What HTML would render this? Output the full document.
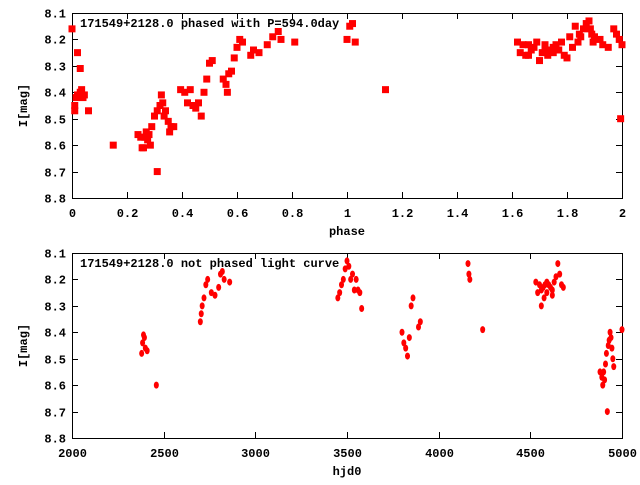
<!DOCTYPE html>
<html><head><meta charset="utf-8"><style>
body{margin:0;background:#fff}
svg text{font-family:"Liberation Mono",monospace;font-weight:bold;font-size:12px;fill:#000}
</style></head><body>
<svg id="s" width="640" height="480" xmlns="http://www.w3.org/2000/svg">
<rect x="0" y="0" width="640" height="480" fill="#fff"/>
</svg>
<script>
(function(){
var s=document.getElementById('s'),NS='http://www.w3.org/2000/svg';
function el(t,a,txt){var e=document.createElementNS(NS,t);for(var k in a)e.setAttribute(k,a[k]);if(txt!=null)e.textContent=txt;s.appendChild(e);return e;}
var L=72,R=622;
function axes(T,B,xmin,xmax,xstep,xlab,title,dec){
 el('rect',{x:L+.5,y:T+.5,width:R-L,height:B-T,fill:'none',stroke:'#000','stroke-width':1});
 for(var v=8.1;v<=8.801;v+=0.1){var y=Math.round(T+(v-8.1)/0.7*(B-T))+.5;
  el('line',{x1:L,y1:y,x2:L+6,y2:y,stroke:'#000'});el('line',{x1:R-6,y1:y,x2:R,y2:y,stroke:'#000'});
  el('text',{x:66,y:y+4,'text-anchor':'end'},v.toFixed(1));}
 for(var v=xmin;v<=xmax+1e-9;v+=xstep){var x=Math.round(L+(v-xmin)/(xmax-xmin)*(R-L))+.5;
  el('line',{x1:x,y1:T,x2:x,y2:T+6,stroke:'#000'});el('line',{x1:x,y1:B-6,x2:x,y2:B,stroke:'#000'});
  el('text',{x:x,y:B+19,'text-anchor':'middle'},dec?(Math.abs(v-Math.round(v))<1e-9?Math.round(v):v.toFixed(1)):v);}
 el('text',{x:(L+R)/2,y:B+37,'text-anchor':'middle'},xlab);
 el('text',{x:0,y:0,'text-anchor':'middle',transform:'translate(27,'+((T+B)/2)+') rotate(-90)'},'I[mag]');
 el('text',{x:80,y:T+14},title);
}
axes(13,198,0,2,0.2,'phase','171549+2128.0 phased with P=594.0day',true);
axes(253,438,2000,5000,500,'hjd0','171549+2128.0 not phased light curve',false);
var d1=[[0,8.16],[.01,8.45],[.01,8.47],[.015,8.42],[.02,8.25],[.02,8.41],[.03,8.31],[.03,8.40],[.035,8.39],[.04,8.42],[.045,8.41],[.06,8.47],[.15,8.60],[.24,8.56],[.25,8.57],[.255,8.61],[.26,8.61],[.265,8.57],[.27,8.55],[.275,8.58],[.28,8.56],[.285,8.60],[.29,8.53],[.30,8.49],[.31,8.70],[.31,8.47],[.32,8.45],[.325,8.41],[.33,8.44],[.335,8.49],[.34,8.47],[.35,8.51],[.355,8.55],[.36,8.53],[.37,8.53],[.395,8.39],[.41,8.40],[.42,8.44],[.43,8.39],[.44,8.45],[.45,8.46],[.46,8.44],[.47,8.49],[.48,8.40],[.49,8.35],[.50,8.29],[.51,8.28],[.55,8.35],[.56,8.37],[.565,8.40],[.57,8.33],[.58,8.32],[.59,8.27],[.60,8.23],[.61,8.20],[.62,8.21],[.65,8.26],[.66,8.24],[.68,8.25],[.71,8.22],[.73,8.19],[.75,8.17],[.76,8.20],[.81,8.21],[1.0,8.20],[1.01,8.15],[1.02,8.14],[1.03,8.21],[1.14,8.39],
[1.62,8.21],[1.63,8.25],[1.64,8.22],[1.65,8.26],[1.66,8.22],[1.67,8.24],[1.68,8.23],[1.69,8.21],[1.70,8.28],[1.71,8.25],[1.72,8.22],[1.73,8.26],[1.74,8.24],[1.75,8.23],[1.76,8.22],[1.77,8.24],[1.78,8.21],[1.79,8.26],[1.80,8.27],[1.81,8.19],[1.82,8.23],[1.83,8.15],[1.84,8.21],[1.845,8.18],[1.85,8.19],[1.86,8.16],[1.87,8.14],[1.88,8.13],[1.885,8.16],[1.89,8.18],[1.895,8.21],[1.90,8.19],[1.92,8.20],[1.93,8.22],[1.95,8.23],[1.97,8.16],[1.98,8.18],[1.99,8.20],[1.995,8.50],[2.0,8.22],[1.75,8.25],[1.72,8.24],[1.66,8.26]];
d1.forEach(function(p){var x=L+p[0]/2*(R-L),y=13+(p[1]-8.1)/0.7*185;el('rect',{x:x-3.5,y:y-3.5,width:7,height:7,fill:'#f00'});});
var d2=[[2380,8.48],[2385,8.44],[2390,8.41],[2395,8.42],[2400,8.46],[2410,8.47],[2460,8.60],[2700,8.36],[2705,8.33],[2710,8.30],[2720,8.27],[2730,8.22],[2740,8.20],[2760,8.25],[2780,8.26],[2800,8.23],[2810,8.18],[2820,8.17],[2830,8.20],[2860,8.21],[3450,8.27],[3460,8.25],[3470,8.22],[3480,8.20],[3490,8.16],[3500,8.13],[3510,8.15],[3520,8.20],[3530,8.18],[3540,8.24],[3550,8.20],[3560,8.24],[3570,8.25],[3580,8.31],[3800,8.40],[3810,8.44],[3820,8.46],[3830,8.49],[3840,8.42],[3850,8.30],[3860,8.27],[3890,8.38],[3900,8.36],[4160,8.14],[4165,8.18],[4170,8.20],[4240,8.39],
[4530,8.21],[4540,8.25],[4550,8.22],[4560,8.24],[4570,8.23],[4575,8.27],[4580,8.22],[4590,8.25],[4600,8.22],[4610,8.23],[4620,8.24],[4630,8.21],[4640,8.19],[4650,8.14],[4660,8.18],[4670,8.22],[4680,8.23],[4560,8.30],[4590,8.21],[4620,8.26],
[4880,8.55],[4890,8.57],[4895,8.60],[4900,8.55],[4905,8.58],[4910,8.52],[4915,8.48],[4920,8.70],[4925,8.45],[4930,8.43],[4935,8.40],[4940,8.42],[4945,8.46],[4950,8.50],[4955,8.53],[5000,8.39]];
d2.forEach(function(p){var x=L+(p[0]-2000)/3000*(R-L),y=253+(p[1]-8.1)/0.7*185;el('ellipse',{cx:x,cy:y,rx:2.5,ry:3.5,fill:'#f00'});});
})();
</script>
</body></html>
